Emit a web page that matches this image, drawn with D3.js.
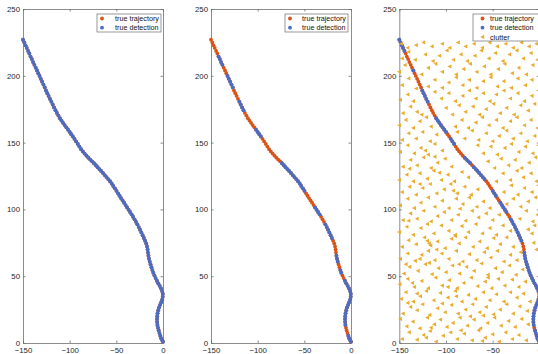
<!DOCTYPE html>
<html>
<head>
<meta charset="utf-8">
<script src="https://cdn.jsdelivr.net/npm/d3@7"></script>
<style>
  body { margin: 0; background: #fff; }
  svg { display: block; font-family: "Liberation Sans", Arial, Helvetica, sans-serif; }
</style>
</head>
<body>
<svg id="chart" width="538" height="354"></svg>
<script>
const trajX = [-150.0,-148.6,-147.3,-146.0,-144.5,-143.2,-141.9,-140.5,-139.2,-137.8,-136.4,-135.0,-133.7,-132.3,-130.9,-129.5,-128.1,-126.7,-125.4,
  -124.0,-122.6,-121.1,-119.6,-118.2,-116.7,-115.2,-113.7,-112.1,-110.5,-108.8,-107.1,-105.4,-103.6,-101.8,-100.0,-98.3,-96.6,
  -94.9,-93.1,-91.3,-89.6,-87.8,-85.9,-84.0,-82.0,-80.0,-78.0,-76.0,-74.0,-72.0,-70.1,
  -68.2,-66.3,-64.4,-62.5,-60.6,-58.7,-56.8,-55.0,-53.3,-51.6,-49.9,-48.2,-46.6,-45.0,-43.3,
  -41.7,-40.1,-38.5,-36.9,-35.3,-33.7,-32.1,-30.5,-29.0,-27.5,-26.0,-24.6,-23.2,-21.8,-20.5,
  -19.2,-18.0,-17.1,-16.5,-16.1,-15.6,-15.0,-14.2,-13.3,-12.4,-11.4,-10.4,
  -9.2,-7.9,-6.5,-5.1,-3.6,-2.2,-1.0,-0.2,
  -0.3,-0.9,-1.9,-3.1,-4.2,-5.1,-5.8,-6.2,-6.4,
  -6.3,-6.0,-5.4,-4.6,-3.8,-2.9,-2.0,-1.0,0.0];
const trajY = [227.0,225.0,222.8,220.9,218.6,216.7,214.4,212.5,210.3,208.2,206.1,204.0,202.0,199.9,197.7,195.6,193.4,191.3,189.0,
  187.0,184.9,182.7,180.6,178.5,176.3,174.2,172.2,170.2,168.3,166.5,164.8,163.1,161.4,159.7,158.0,156.3,154.6,
  152.8,150.9,149.0,147.0,145.1,143.4,141.8,140.2,138.7,137.3,136.0,134.6,133.1,131.6,
  130.2,128.8,127.3,125.7,124.2,122.7,121.1,119.4,117.6,115.8,113.9,112.0,110.2,108.5,106.7,
  105.0,103.2,101.5,99.8,98.1,96.3,94.5,92.6,90.7,88.8,86.8,84.8,82.8,80.7,78.6,
  76.6,74.5,72.3,70.0,67.7,65.4,63.1,60.9,58.8,56.7,54.6,52.6,
  50.6,48.6,46.6,44.7,42.8,40.9,38.9,36.8,
  34.6,32.5,30.5,28.6,26.6,24.5,22.3,20.1,17.9,
  15.7,13.5,11.4,9.4,7.4,5.5,3.6,2.2,1.0];

// index ranges (1-based) of the path where a detection was made
const detectedAll = [[1, 119]];
const detectedMid = [[7,10],[14,18],[23,26],[34,37],[49,62],[69,72],[76,81],[87,89],[92,93],[96,112],[116,119]];
const detectedRight = [[1,5],[12,12],[19,23],[29,35],[38,40],[46,49],[51,57],[62,64],[67,71],[74,82],[86,100],[103,112],[114,119]];

// clutter returns (x, y)
const clutter = [
  [-147,3],[-139.5,8],[-131,2.5],[-124,6],[-117,9],[-110.5,1],[-103,5.5],[-95,8],[-88,3],[-80.5,7],[-72,2],[-65,9.5],[-58,4],[-50,6.5],[-43,1],[-36,8],[-29,3],[-22,6],[-14,2],[-121,4],[-84,9.5],[-61,1.5],
  [-149,18],[-142,12.5],[-135.5,16],[-128,11],[-120,19],[-112.5,14],[-106,17.5],[-99,12],[-92.5,15],[-85,19],[-77,13],[-70,17.5],[-63,11],[-55.5,15],[-48,19],[-41,13],[-33,16.5],[-26,12],[-19,18],[-12,14],[-116,11.5],[-74,20],
  [-146,22],[-138,27],[-131,24.5],[-125,29],[-117.5,21],[-109,26],[-101,23],[-94,28.5],[-87,22],[-79,25],[-71.5,29],[-64,23],[-57,27],[-49,21.5],[-42,25],[-35,29],[-28,22],[-21,27.5],[-13,24],[-104,29.5],[-60,20.5],[-141,30],
  [-148,33],[-143,38],[-135,31],[-127.5,35],[-121,39],[-113,32],[-106,37.5],[-98,34],[-90,39],[-83,31],[-76,36],[-68.5,33],[-60,38],[-53,32],[-46,36.5],[-38,31],[-31,38],[-24,34],[-17,37],[-10,31],[-131,37],[-89,35],
  [-149.5,44],[-141,48],[-134,42],[-126,46.5],[-119,41],[-111,49],[-104,43],[-96.5,47],[-88,41],[-81,45],[-73,49],[-66,42.5],[-58,46],[-51,41],[-44,48],[-37,43],[-29,47.5],[-22,42],[-15,46],[-136,45],[-98,42],[-55,49],
  [-145,52],[-139,57],[-130,54],[-122,59],[-115,51.5],[-108,56],[-100,53],[-93,58],[-85.5,52],[-78,57],[-70,54],[-62,59.5],[-55,51],[-47,56],[-40,53],[-32,58],[-25,51],[-18,55],[-118,60],[-86,59],[-143,59],
  [-149,63],[-141,67],[-133,61.5],[-126,66],[-119,69],[-112,62],[-104.5,67],[-97,63],[-89,69],[-82,61],[-75,66.5],[-67,62],[-59,68],[-52,64],[-45,69],[-38,61],[-31,66],[-24,62],[-20,68],[-110,70],[-128,63],
  [-147,72],[-140,77],[-132,74],[-123,79],[-116.5,73],[-109,76],[-101,71],[-94,78],[-86,74.5],[-79,79],[-71,72],[-64,76],[-56,71],[-49,78.5],[-42,74],[-35,79],[-28,72],[-120,76.5],[-118,74.5],[-90,80],[-6,75],[-3,70],
  [-150,83],[-142,87],[-135,81],[-127,86],[-120,89],[-113,82],[-105,88],[-97,84],[-90,81],[-83,87.5],[-76,83],[-68,89],[-61,82],[-53,86],[-46,81],[-39,88],[-31,84],[-12,85],[-5,88],[-8,82],
  [-146,92],[-138,97],[-131,93],[-124,99],[-116,91],[-109,95],[-102,98],[-94,92],[-87,96],[-79,91.5],[-72,99],[-65,94],[-57,97],[-50,92],[-43,96],[-21,93],[-14,99],[-7,91],[-2,96],[-140,91.5],
  [-149,103],[-141,108],[-134,101],[-127,105],[-119,109],[-112,102],[-104,106.5],[-97,101],[-89,108],[-82,104],[-75,109],[-67,102],[-60,106],[-53,101],[-35,104],[-28,108],[-20,102],[-12,106],[-4,109],[-85,100.5],
  [-147,113],[-139,117],[-132,111],[-125,116],[-117,119],[-110,112],[-102,115],[-95,119],[-88,112],[-80,117],[-73,111],[-66,115],[-38,113],[-30,118],[-23,111],[-16,116],[-8,113],[-1,118],[-128,119],[-92,114],
  [-150,122],[-142,126],[-135,121],[-128,127],[-120,123],[-113,129],[-105,122],[-98,126],[-91,121],[-83,128],[-76,124],[-46,121],[-39,127],[-31,122],[-24,129],[-17,124],[-9,127],[-3,121],[-107,127.5],
  [-146,132],[-138,137],[-131,133],[-124,139],[-116,131],[-109,135],[-101,138],[-94,132],[-55,136],[-48,131],[-41,138],[-33,133],[-26,137],[-19,131],[-11,135],[-4,139],[-112,139.5],[-139,130.5],
  [-149,143],[-141,148],[-134,142],[-127,146],[-119,141],[-112,149],[-104,144],[-66,148],[-60,142],[-52,147],[-45,141],[-37,146],[-30,149],[-22,143],[-15,147],[-7,142],[-1,148],[-122,144],
  [-147,152],[-140,157],[-132,153],[-125,158],[-117,151],[-110,156],[-80,153],[-72,159],[-65,152],[-57,157],[-50,151],[-43,155],[-35,159],[-28,153],[-20,157],[-13,151],[-5,155],[-88,158],
  [-150,163],[-143,167],[-135,161],[-128,166],[-121,169],[-90,162],[-83,167],[-76,161],[-68,165],[-61,169],[-54,163],[-46,167],[-39,161],[-31,166],[-24,169],[-16,163],[-9,167],[-2,161],[-116,162],
  [-146,172],[-138,177],[-131,173],[-100,176],[-93,171],[-86,178],[-79,173],[-71,177],[-64,171],[-57,175],[-49,179],[-42,172],[-35,176],[-27,171],[-20,178],[-12,174],[-5,179],[-126,171],
  [-149,182],[-141,186],[-135,181],[-112,188],[-105,183],[-97,187],[-90,181],[-82,185],[-75,189],[-68,183],[-60,187],[-53,181],[-46,186],[-38,189],[-31,183],[-23,187],[-16,181],[-8,185],[-1,189],
  [-147,193],[-140,198],[-119,192],[-112,197],[-104,191],[-97,195],[-89,199],[-82,193],[-75,197],[-67,191],[-60,196],[-52,199],[-45,192],[-38,196],[-30,191],[-23,198],[-15,193],[-8,197],[-132,190.5],
  [-150,203],[-144,208],[-126,201],[-119,206],[-111,209],[-104,203],[-96,207],[-89,201],[-81,205],[-74,209],[-67,203],[-59,207],[-52,201],[-44,205],[-37,209],[-29,202],[-22,206],[-14,201],[-7,208],
  [-147,213],[-140,218],[-133,212],[-122,216],[-114,211],[-107,215],[-99,219],[-92,212],[-84,216],[-77,211],[-69,215],[-62,219],[-54,213],[-47,217],[-39,211],[-32,216],[-24,219],[-17,213],[-9,217],[-2,212],
  [-148,224],[-141,221],[-132,223],[-124,225],[-115,222],[-104,224],[-96,221],[-87,225],[-79,222],[-70,224],[-61,221],[-53,225],[-45,222],[-36,224],[-28,221],[-19,225],[-11,222],[-3,224]
];

const xTicks = [-150, -100, -50, 0];
const yTicks = [0, 50, 100, 150, 200, 250];
const legendLabels = ["true trajectory", "true detection", "clutter"];

const colTraj = "#d95319";
const colDet = "#4a6cc3";
const colClutter = "#e9ac2c";
const axisCol = "#6e6e6e";

const svg = d3.select("#chart");
svg.append("rect").attr("width", 538).attr("height", 354).attr("fill", "#fff");

const plotTop = 9, plotBottom = 343, panelW = 140;

function expand(ranges) {
  const idx = [];
  ranges.forEach(([a, b]) => { for (let i = a; i <= b; i++) idx.push(i - 1); });
  return idx;
}

function drawPanel(left, detRanges, withClutter, legendBox) {
  const x = d3.scaleLinear().domain([-150, 0]).range([left, left + panelW]);
  const y = d3.scaleLinear().domain([0, 250]).range([plotBottom, plotTop]);
  const g = svg.append("g");

  // axes box with inward ticks on all four sides
  const styleAxis = sel => {
    sel.selectAll("path.domain").attr("stroke", axisCol).attr("stroke-width", 0.8);
    sel.selectAll(".tick line").attr("stroke", axisCol).attr("stroke-width", 0.8);
    sel.selectAll("text").attr("fill", "#262626").attr("font-size", "7.8px").attr("font-family", null);
  };
  g.append("g").attr("transform", `translate(0,${plotBottom})`)
    .call(d3.axisBottom(x).tickValues(xTicks).tickSizeInner(-2.5).tickSizeOuter(0).tickPadding(4).tickFormat(d3.format("d")))
    .call(styleAxis);
  g.append("g").attr("transform", `translate(0,${plotTop})`)
    .call(d3.axisTop(x).tickValues(xTicks).tickSizeInner(-2.5).tickSizeOuter(0).tickFormat(""))
    .call(styleAxis);
  g.append("g").attr("transform", `translate(${left},0)`)
    .call(d3.axisLeft(y).tickValues(yTicks).tickSizeInner(-2.5).tickSizeOuter(0).tickPadding(3).tickFormat(d3.format("d")))
    .call(styleAxis);
  g.append("g").attr("transform", `translate(${left + panelW},0)`)
    .call(d3.axisRight(y).tickValues(yTicks).tickSizeInner(-2.5).tickSizeOuter(0).tickFormat(""))
    .call(styleAxis);

  // true trajectory
  g.append("g").selectAll("circle")
    .data(d3.range(trajX.length))
    .join("circle")
    .attr("cx", i => x(trajX[i]))
    .attr("cy", i => y(trajY[i]))
    .attr("r", 1.9)
    .attr("fill", colTraj);

  // detections
  g.append("g").selectAll("circle")
    .data(expand(detRanges))
    .join("circle")
    .attr("cx", i => x(trajX[i]))
    .attr("cy", i => y(trajY[i]))
    .attr("r", 1.9)
    .attr("fill", colDet);

  // clutter (left-pointing triangles)
  if (withClutter) {
    g.append("g").selectAll("path")
      .data(clutter)
      .join("path")
      .attr("transform", d => `translate(${x(d[0])},${y(d[1])})`)
      .attr("d", "M-2.2,0L1.7,-2.1L1.7,2.1Z")
      .attr("fill", colClutter);
  }

  // legend
  const n = withClutter ? 3 : 2;
  const lg = g.append("g");
  lg.append("rect")
    .attr("x", legendBox.x).attr("y", 14)
    .attr("width", legendBox.w).attr("height", withClutter ? 27 : 18)
    .attr("fill", "#fff").attr("stroke", "#555").attr("stroke-width", 0.6);
  for (let k = 0; k < n; k++) {
    const cy = 18.5 + k * 9.2;
    const mx = legendBox.x + legendBox.mx;
    if (k < 2) {
      lg.append("circle").attr("cx", mx).attr("cy", cy).attr("r", 1.9).attr("fill", k === 0 ? colTraj : colDet);
    } else {
      lg.append("path").attr("transform", `translate(${mx},${cy})`).attr("d", "M-2.2,0L1.7,-2.1L1.7,2.1Z").attr("fill", colClutter);
    }
    lg.append("text")
      .attr("x", legendBox.x + legendBox.tx).attr("y", cy + 2.6)
      .attr("font-size", "7.2px").attr("fill", "#111")
      .text(legendLabels[k]);
  }
}

drawPanel(23, detectedAll, false, { x: 97, w: 64, mx: 5, tx: 18 });
drawPanel(211, detectedMid, false, { x: 285, w: 63, mx: 5, tx: 17 });
drawPanel(399.3, detectedRight, true, { x: 473, w: 68, mx: 9.5, tx: 17 });
</script>
</body>
</html>
